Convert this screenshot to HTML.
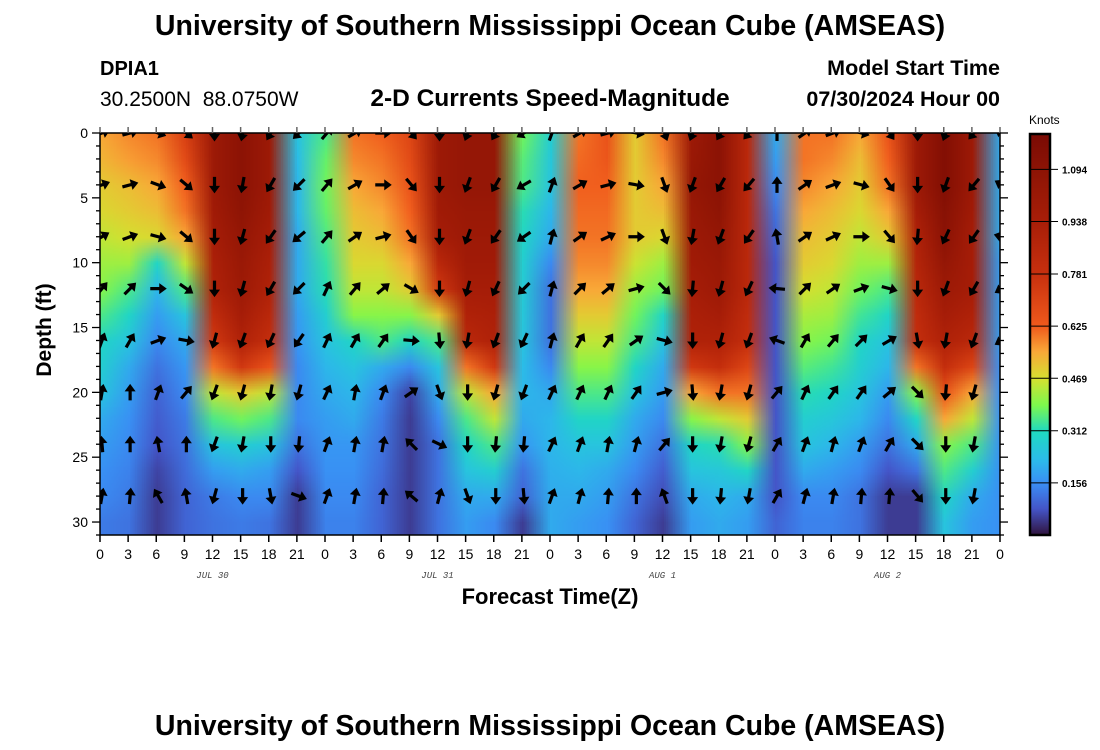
<!DOCTYPE html>
<html><head><meta charset="utf-8"><style>
html,body{margin:0;padding:0;background:#fff;}
#wrap{position:relative;width:1100px;height:750px;overflow:hidden;font-family:"Liberation Sans",sans-serif;}
#clip{position:absolute;left:100px;top:133px;width:900px;height:402px;overflow:hidden;}
#heat{position:absolute;image-rendering:auto;}
#svg{position:absolute;left:0;top:0;}
</style></head><body>
<div id="wrap">
<div id="clip"><canvas id="heat"></canvas></div>
<svg id="svg" width="1100" height="750"></svg>
</div>
<script>
// ---- data ----
const times = [0,3,6,9,12,15,18,21,24,27,30,33,36,39,42,45,48,51,54,57,60,63,66,69,72,75,78,81,84,87,90,93,96];
const depths = [0,2,4,6,8,10,12,14,16,18,20,22,24,26,28,30];
const xTickLabels = ["0","3","6","9","12","15","18","21","0","3","6","9","12","15","18","21","0","3","6","9","12","15","18","21","0","3","6","9","12","15","18","21","0"];
const yTicks = [0,5,10,15,20,25,30];
const dateLabels = ["JUL 30","JUL 31","AUG 1","AUG 2"];
const dateTimes = [12,36,60,84];
const cbTicks = [0.156,0.312,0.469,0.625,0.781,0.938,1.094];
const speed = [
[0.55,0.53,0.5,0.48,0.45,0.42,0.4,0.35,0.3,0.28,0.25,0.2,0.18,0.16,0.15,0.13],
[0.58,0.56,0.52,0.5,0.47,0.42,0.35,0.3,0.25,0.2,0.18,0.16,0.15,0.14,0.13,0.12],
[0.6,0.58,0.55,0.52,0.48,0.3,0.22,0.18,0.15,0.12,0.1,0.09,0.08,0.06,0.05,0.05],
[0.72,0.68,0.62,0.6,0.55,0.45,0.35,0.25,0.2,0.17,0.15,0.13,0.12,0.11,0.1,0.1],
[1.0,1.0,1.0,0.98,0.95,0.92,0.9,0.82,0.75,0.6,0.45,0.35,0.25,0.18,0.13,0.12],
[1.1,1.1,1.1,1.08,1.05,1.02,1.0,0.95,0.9,0.75,0.5,0.38,0.28,0.2,0.15,0.13],
[1.0,1.0,1.0,0.98,0.95,0.92,0.9,0.85,0.8,0.65,0.45,0.35,0.25,0.18,0.15,0.12],
[0.25,0.23,0.22,0.22,0.2,0.2,0.2,0.18,0.17,0.15,0.15,0.15,0.12,0.08,0.05,0.05],
[0.35,0.37,0.38,0.37,0.35,0.33,0.32,0.28,0.25,0.22,0.2,0.18,0.17,0.16,0.15,0.14],
[0.6,0.58,0.55,0.52,0.5,0.48,0.45,0.4,0.3,0.25,0.22,0.2,0.17,0.16,0.15,0.14],
[0.62,0.6,0.58,0.55,0.52,0.48,0.45,0.4,0.35,0.2,0.15,0.13,0.12,0.11,0.1,0.1],
[0.7,0.68,0.65,0.62,0.6,0.55,0.5,0.4,0.3,0.15,0.06,0.05,0.05,0.05,0.05,0.05],
[1.0,1.0,1.0,0.98,0.95,0.85,0.75,0.5,0.35,0.25,0.2,0.15,0.12,0.12,0.12,0.12],
[1.05,1.05,1.05,1.02,1.0,0.98,0.95,0.9,0.85,0.6,0.45,0.35,0.3,0.25,0.2,0.18],
[1.05,1.05,1.05,1.02,1.0,0.98,0.95,0.92,0.9,0.75,0.55,0.45,0.35,0.28,0.2,0.15],
[0.38,0.36,0.35,0.32,0.3,0.28,0.27,0.26,0.25,0.23,0.22,0.2,0.17,0.12,0.1,0.05],
[0.28,0.26,0.25,0.22,0.2,0.15,0.12,0.12,0.12,0.15,0.2,0.22,0.22,0.21,0.2,0.2],
[0.6,0.61,0.62,0.61,0.6,0.58,0.55,0.5,0.45,0.4,0.35,0.3,0.25,0.22,0.2,0.18],
[0.65,0.64,0.62,0.61,0.6,0.58,0.55,0.5,0.45,0.4,0.35,0.3,0.25,0.2,0.18,0.16],
[0.5,0.5,0.5,0.5,0.5,0.46,0.42,0.38,0.35,0.3,0.25,0.2,0.18,0.15,0.12,0.1],
[0.6,0.58,0.55,0.52,0.48,0.42,0.38,0.3,0.25,0.2,0.18,0.15,0.12,0.09,0.07,0.05],
[1.0,1.02,1.05,1.02,1.0,0.98,0.95,0.92,0.9,0.75,0.55,0.4,0.3,0.25,0.2,0.18],
[1.1,1.1,1.1,1.08,1.05,1.02,1.0,0.95,0.9,0.8,0.6,0.45,0.32,0.26,0.22,0.2],
[0.85,0.85,0.85,0.85,0.85,0.85,0.85,0.82,0.8,0.7,0.6,0.5,0.4,0.3,0.2,0.18],
[0.2,0.18,0.15,0.12,0.1,0.08,0.08,0.08,0.08,0.08,0.08,0.08,0.08,0.08,0.08,0.1],
[0.6,0.6,0.58,0.55,0.52,0.5,0.47,0.43,0.4,0.36,0.32,0.28,0.25,0.2,0.15,0.14],
[0.6,0.58,0.55,0.52,0.5,0.48,0.45,0.42,0.38,0.34,0.3,0.26,0.22,0.18,0.15,0.14],
[0.55,0.52,0.5,0.48,0.45,0.42,0.38,0.34,0.3,0.28,0.25,0.22,0.18,0.15,0.12,0.12],
[0.65,0.62,0.6,0.55,0.5,0.42,0.35,0.3,0.25,0.22,0.18,0.15,0.12,0.08,0.05,0.05],
[1.0,1.0,1.0,0.95,0.9,0.88,0.85,0.82,0.8,0.6,0.4,0.3,0.2,0.12,0.05,0.05],
[1.15,1.15,1.15,1.12,1.1,1.05,1.0,0.95,0.9,0.8,0.65,0.55,0.4,0.35,0.3,0.25],
[1.0,1.0,1.0,0.98,0.95,0.95,0.95,0.9,0.85,0.7,0.55,0.45,0.35,0.28,0.2,0.18],
[0.2,0.2,0.2,0.2,0.2,0.18,0.18,0.18,0.18,0.16,0.16,0.16,0.16,0.16,0.16,0.16]
];
const arrowDepths = [0,4,8,12,16,20,24,28];
const dir0  = [70,75,110,130,180,190,210,225,40,60,90,140,180,200,210,240,20,60,75,100,160,200,210,220,0,55,70,105,145,180,200,220,300];
const dir4  = [70,75,110,130,180,190,210,225,40,60,90,140,180,200,210,240,20,60,75,100,160,200,210,220,0,55,70,105,145,180,200,220,300];
const dir8  = [60,70,105,130,180,195,215,230,40,55,75,145,180,200,215,235,15,55,65,90,160,190,200,215,350,55,65,90,140,185,205,215,285];
const dir12 = [40,45,90,125,180,195,210,225,25,40,50,120,180,195,205,225,15,45,50,75,135,185,195,205,275,45,55,70,105,180,200,210,240];
const dir16 = [20,30,70,100,195,200,205,215,25,30,35,95,175,190,200,205,15,30,35,55,105,180,195,200,290,30,40,45,60,170,190,200,240];
const dir20 = [10,0,20,40,200,195,190,195,25,10,20,55,160,180,195,200,25,25,25,35,75,175,190,195,40,25,35,35,50,135,185,195,null];
const dir24 = [355,0,350,0,200,190,180,185,20,10,10,315,115,180,185,185,25,20,10,15,40,180,190,195,30,20,15,20,30,135,180,190,null];
const dir28 = [10,5,330,350,195,180,170,110,20,10,5,310,15,160,180,175,20,15,5,0,340,180,185,190,30,15,10,5,5,140,180,190,null];
const dirRows = [dir0,dir4,dir8,dir12,dir16,dir20,dir24,dir28];

// ---- scales ----
const X0=100,X1=1000,Y0=133,Y1=535;
const xS = t => X0 + (t/96)*(X1-X0);
const yS = d => Y0 + (d/31)*(Y1-Y0);
const stops=[[0,[48,18,59]],[0.08,[68,85,200]],[0.156,[58,142,245]],[0.23,[43,189,232]],[0.312,[31,217,192]],[0.39,[125,248,77]],[0.469,[213,224,48]],[0.55,[249,168,56]],[0.625,[240,90,28]],[0.781,[200,48,14]],[0.938,[168,30,8]],[1.094,[141,20,5]],[1.2,[122,10,4]]];
function cmap(v){
  if(v<=stops[0][0])return stops[0][1];
  for(let i=1;i<stops.length;i++){if(v<=stops[i][0]){const a=stops[i-1],b=stops[i],f=(v-a[0])/(b[0]-a[0]);return a[1].map((c,j)=>Math.round(c+(b[1][j]-c)*f));}}
  return stops[stops.length-1][1];
}
// heatmap
const cv=document.getElementById('heat');
cv.width=times.length;cv.height=depths.length;
const ctx=cv.getContext('2d');const img=ctx.createImageData(cv.width,cv.height);
speed.forEach((col,i)=>col.forEach((v,j)=>{const c=cmap(v),p=(j*cv.width+i)*4;img.data[p]=c[0];img.data[p+1]=c[1];img.data[p+2]=c[2];img.data[p+3]=255;}));
ctx.putImageData(img,0,0);
const cw=xS(times[1])-xS(times[0]), ch=yS(depths[1])-yS(depths[0]);
cv.style.left=(xS(times[0])-cw/2-X0)+'px';cv.style.top=(yS(depths[0])-ch/2-Y0)+'px';
cv.style.width=(cw*times.length)+'px';cv.style.height=(ch*depths.length)+'px';

const svg=document.getElementById('svg');const NS='http://www.w3.org/2000/svg';
function el(tag,attrs,parent){const e=document.createElementNS(NS,tag);for(const k in attrs)e.setAttribute(k,attrs[k]);(parent||svg).appendChild(e);return e;}
function txt(s,attrs,parent){const e=el('text',attrs,parent);e.textContent=s;return e;}

// arrows
const clipP=el('clipPath',{id:'pc'});el('rect',{x:X0,y:Y0,width:X1-X0,height:Y1-Y0},clipP);
const ag=el('g',{'clip-path':'url(#pc)'});


dirRows.forEach((row,r)=>row.forEach((deg,i)=>{
  if(deg===null)return;
  const a=el('path',{d:'M-1.6,8 L-1.6,-1 L-5.5,-1 L0,-8.5 L5.5,-1 L1.6,-1 L1.6,8 Z',fill:'#000',transform:`translate(${xS(times[i])+2},${yS(arrowDepths[r])}) rotate(${deg})`},ag);
  
  
}));
// frame
const fr=el('rect',{x:X0,y:Y0,width:X1-X0,height:Y1-Y0,fill:'none',stroke:'#000','stroke-width':1.5});


// x ticks
times.forEach((t,i)=>{
  const x=xS(t);
  el('line',{x1:x,x2:x,y1:Y1,y2:Y1+7,stroke:'#000','stroke-width':1.5});
  el('line',{x1:x,x2:x,y1:Y0,y2:Y0-6,stroke:'#666','stroke-width':1.5});
  const l=txt(xTickLabels[i],{x:x,y:Y1+24,'font-size':14,'text-anchor':'middle'});
  
  
});
dateLabels.forEach((s,i)=>{
  const l=txt(s,{x:xS(dateTimes[i]),y:Y1+43,'font-size':9,'text-anchor':'middle','font-style':'italic','font-family':'Liberation Mono, monospace',fill:'#444'});
  
  
});
// y ticks
for(let d=0;d<=31;d++){
  const y=yS(d),maj=d%5===0;
  el('line',{x1:X0-(maj?8:4),x2:X0,y1:y,y2:y,stroke:'#000','stroke-width':1.3});
  el('line',{x1:X1,x2:X1+(maj?8:4),y1:y,y2:y,stroke:'#000','stroke-width':1.3});
}
yTicks.forEach(d=>{
  const l=txt(String(d),{x:X0-12,y:yS(d)+5,'font-size':14,'text-anchor':'end'});
  
  
});
// colorbar
const CB0=134,CB1=535,cbV=d=>CB1-(d/1.2)*(CB1-CB0);
const cbg=el('g',{});


for(let p=CB0;p<CB1;p++){const v=(CB1-p)/(CB1-CB0)*1.2;const c=cmap(v);el('rect',{x:1031,y:p,width:18,height:1.2,fill:`rgb(${c})`},cbg);}
el('rect',{x:1030,y:CB0,width:20,height:CB1-CB0,fill:'none',stroke:'#000','stroke-width':2.5},cbg);
cbTicks.forEach(v=>{const y=cbV(v);el('line',{x1:1031,x2:1058,y1:y,y2:y,stroke:'#000','stroke-width':1},cbg);
  const l=txt(v.toFixed(3),{x:1062,y:y+4,'font-size':10,'font-weight':'bold'},cbg);
  
  });
// texts
const T=[
 ['University of Southern Mississippi Ocean Cube (AMSEAS)',550,35,28.5,'bold','middle','main-title'],
 ['DPIA1',100,75,20,'bold','start','station-id'],
 ['30.2500N\u00a0\u00a088.0750W',100,106,21,'normal','start','station-coords'],
 ['2-D Currents Speed-Magnitude',550,106,24.5,'bold','middle','chart-subtitle'],
 ['Model Start Time',1000,75,21.5,'bold','end','model-start-label'],
 ['07/30/2024 Hour 00',1000,106,21.5,'bold','end','model-start-time'],
 ['Knots',1029,124,12,'normal','start','colorbar-unit'],
 ['Forecast Time(Z)',550,604,22,'bold','middle','x-axis-title'],
 ['University of Southern Mississippi Ocean Cube (AMSEAS)',550,735,28.5,'bold','middle','footer-title']];
T.forEach(a=>{const l=txt(a[0],{x:a[1],y:a[2],'font-size':a[3],'font-weight':a[4],'text-anchor':a[5]});
  
  });
const yl=txt('Depth (ft)',{x:0,y:0,'font-size':21,'font-weight':'bold','text-anchor':'middle',transform:'translate(51,330) rotate(-90)'});


</script>
</body></html>
